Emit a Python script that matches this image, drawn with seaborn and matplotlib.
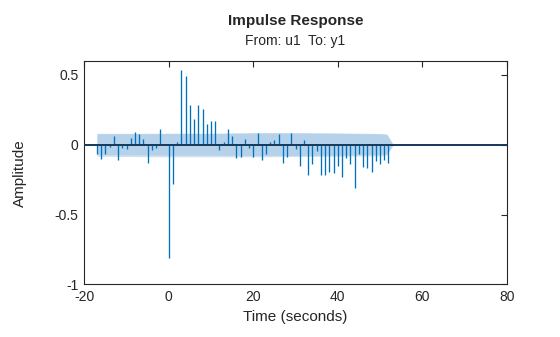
import numpy as np
import pandas as pd
import matplotlib
matplotlib.use("Agg")
import matplotlib.pyplot as plt
import seaborn as sns

# ---- data ----
time_s = list(range(-17, 53))
amplitude = [
    -0.064, -0.100, -0.064, -0.017, 0.064, -0.107, -0.020, -0.030, 0.050, 0.095,
    0.079, 0.043, -0.130, -0.036, -0.020, 0.114, 0.000, -0.814, -0.280, 0.017,
    0.536, 0.495, 0.286, 0.186, 0.288, 0.257, 0.150, 0.167, 0.167, -0.036,
    0.017, 0.114, 0.064, -0.093, -0.088, 0.043, -0.020, -0.088, 0.086, -0.112,
    -0.064, 0.017, 0.036, 0.079, -0.129, -0.088, 0.086, -0.029, -0.150, 0.031,
    -0.214, -0.136, -0.045, -0.214, -0.214, -0.193, -0.200, -0.150, -0.229, -0.093,
    -0.136, -0.307, -0.064, -0.157, -0.164, -0.193, -0.114, -0.136, -0.107, -0.129,
]

# confidence region (knots)
band_t = [-17, -10, 0, 10, 20, 30, 40, 50, 51.6, 53.1]
band_upper = [0.079, 0.079, 0.080, 0.080, 0.084, 0.084, 0.082, 0.078, 0.074, 0.0]
band_lower = [-0.070, -0.072, -0.074, -0.074, -0.076, -0.076, -0.074, -0.068, -0.064, 0.0]
band_upper_outer = [0.082, 0.082, 0.083, 0.083, 0.087, 0.087, 0.085, 0.081, 0.077, 0.0]
band_lower_outer = [-0.082, -0.084, -0.086, -0.086, -0.086, -0.084, -0.082, -0.080, -0.074, 0.0]

x_ticks = [-20, 0, 20, 40, 60, 80]
y_ticks = [-1, -0.5, 0, 0.5]
y_tick_labels = ["-1", "-0.5", "0", "0.5"]

df = pd.DataFrame({"Time": time_s, "Amplitude": amplitude})

sns.set_style("white")
plt.rcParams["font.family"] = ["Liberation Sans", "DejaVu Sans"]

fig = plt.figure(figsize=(5.6, 3.37), dpi=100)
ax = fig.add_axes([0.1505, 0.156, 0.7545, 0.663])

ax.fill_between(band_t, band_lower_outer, band_upper_outer, color="#d0e1f1", lw=0, zorder=1)
ax.fill_between(band_t, band_lower, band_upper, color="#b6d1ea", lw=0, zorder=2)

ax.vlines(df["Time"], 0, df["Amplitude"], color="#0072BD", lw=0.95, zorder=3)
sns.lineplot(x=[-20, 80], y=[0, 0], ax=ax, color="#15395a", lw=1.4, zorder=4)

ax.set_xlim(-20, 80)
ax.set_ylim(-1, 0.6)
ax.set_xticks(x_ticks)
ax.set_xticklabels([str(v) for v in x_ticks])
ax.set_yticks(y_ticks)
ax.set_yticklabels(y_tick_labels)

for s in ax.spines.values():
    s.set_visible(True)
    s.set_color("#262626")
    s.set_linewidth(0.8)

ax.tick_params(direction="in", top=True, right=True, length=4, width=0.8,
               colors="#262626", labelsize=10, pad=4)

ax.set_xlabel("Time (seconds)", fontsize=11, color="#262626", labelpad=4)
ax.set_ylabel("Amplitude", fontsize=11, color="#262626", labelpad=20)

fig.text(0.5277, 1 - 25 / 337, "Impulse Response", ha="center", va="baseline",
         fontsize=11, fontweight="bold", color="#262626")
fig.text(0.5277, 1 - 45 / 337, "From: u1  To: y1", ha="center", va="baseline",
         fontsize=10, color="#262626")

fig.savefig("out.png", dpi=100, facecolor="white")
